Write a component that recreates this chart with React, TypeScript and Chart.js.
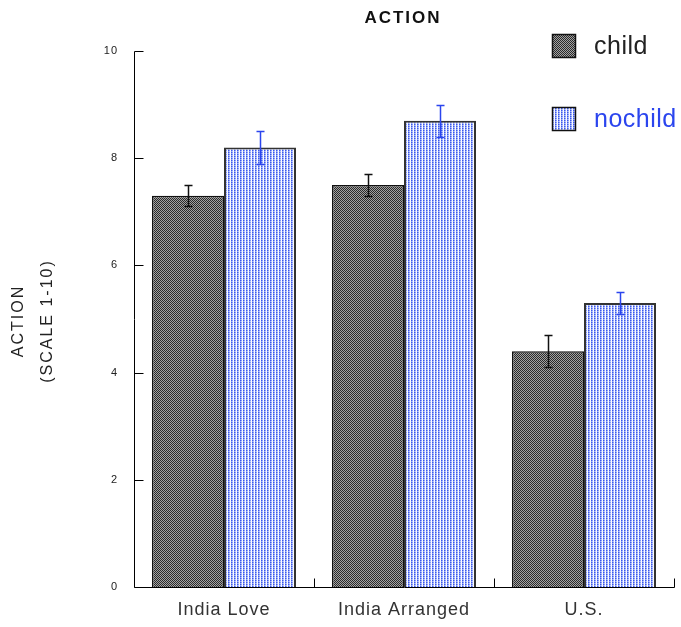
import React, { useEffect, useRef } from "react";
import { Chart, registerables } from "chart.js";

Chart.register(...registerables);

// Mean ratings per group and their error margins
const categories = ["India Love", "India Arranged", "U.S."];
const seriesNames = ["child", "nochild"];
const childValues = [7.3, 7.5, 4.4];
const childErrors = [0.2, 0.2, 0.3];
const nochildValues = [8.2, 8.7, 5.3];
const nochildErrors = [0.3, 0.3, 0.2];
const yTickValues = [0, 2, 4, 6, 8, 10];
const chartTitle = "ACTION";
const yTitleLines = ["ACTION", "(SCALE 1-10)"];

const FONT = "'Liberation Sans', Arial, Helvetica, sans-serif";
const BLUE = "#2b45ee";

function makePattern(cells: string[][]): CanvasPattern | string {
  const c = document.createElement("canvas");
  c.height = cells.length;
  c.width = cells[0].length;
  const g = c.getContext("2d");
  if (!g) return "#888";
  cells.forEach((row, y) =>
    row.forEach((col, x) => {
      g.fillStyle = col;
      g.fillRect(x, y, 1, 1);
    })
  );
  return g.createPattern(c, "repeat") || "#888";
}

export default function App() {
  const canvasRef = useRef<HTMLCanvasElement | null>(null);

  useEffect(() => {
    document.body.style.margin = "0";
    const canvas = canvasRef.current;
    if (!canvas) return;

    const childFill = makePattern([
      ["#2a2a2a", "#a2a2a2"],
      ["#a2a2a2", "#2a2a2a"],
    ]);
    const nochildFill = makePattern([
      ["#3a58ee", "#8497f4", "#ffffff"],
      ["#93a5f6", "#c6d0fa", "#f4f6ff"],
    ]);
    const errors = [childErrors, nochildErrors];
    const errColors = ["#111111", BLUE];

    const decorations = {
      id: "decorations",
      beforeDraw(chart: any) {
        chart.ctx.letterSpacing = "1px";
      },
      afterDatasetsDraw(chart: any) {
        const ctx = chart.ctx as CanvasRenderingContext2D;
        const yScale = chart.scales.y;
        const xScale = chart.scales.x;
        const area = chart.chartArea;
        ctx.save();
        ctx.letterSpacing = "0px";

        // error bars
        chart.data.datasets.forEach((ds: any, di: number) => {
          const meta = chart.getDatasetMeta(di);
          meta.data.forEach((bar: any, i: number) => {
            const v = ds.data[i] as number;
            const e = errors[di][i];
            const yTop = Math.round(yScale.getPixelForValue(v + e)) + 0.5;
            const yBot = Math.round(yScale.getPixelForValue(v - e)) + 0.5;
            const x = Math.round(bar.x) + 0.5;
            ctx.strokeStyle = errColors[di];
            ctx.lineWidth = 1.5;
            ctx.beginPath();
            ctx.moveTo(x, yTop);
            ctx.lineTo(x, yBot);
            ctx.moveTo(x - 4, yTop);
            ctx.lineTo(x + 4, yTop);
            ctx.moveTo(x - 4, yBot);
            ctx.lineTo(x + 4, yBot);
            ctx.stroke();
          });
        });

        // axis lines with inward ticks
        ctx.strokeStyle = "#000";
        ctx.lineWidth = 1;
        ctx.beginPath();
        const left = Math.round(area.left) + 0.5;
        const bottom = Math.round(area.bottom) + 0.5;
        ctx.moveTo(left, Math.round(area.top) + 0.5);
        ctx.lineTo(left, bottom);
        ctx.lineTo(Math.round(area.right) + 0.5, bottom);
        yTickValues.forEach((t) => {
          const y = Math.round(yScale.getPixelForValue(t)) + 0.5;
          ctx.moveTo(left, y);
          ctx.lineTo(left + 9, y);
        });
        const catWidth = (area.right - area.left) / categories.length;
        categories.forEach((_, i) => {
          const x = Math.round(xScale.getPixelForValue(i) + catWidth / 2) + 0.5;
          ctx.moveTo(x, bottom);
          ctx.lineTo(x, bottom - 9);
        });
        ctx.stroke();

        // chart title
        ctx.fillStyle = "#111";
        ctx.font = `bold 17px ${FONT}`;
        ctx.letterSpacing = "2px";
        ctx.textAlign = "center";
        ctx.textBaseline = "middle";
        ctx.fillText(chartTitle, 403, 18);

        // rotated y-axis title
        ctx.font = `16px ${FONT}`;
        ctx.fillStyle = "#222";
        const titleX = [19, 48];
        yTitleLines.forEach((line, i) => {
          ctx.save();
          ctx.translate(titleX[i], 321);
          ctx.rotate(-Math.PI / 2);
          ctx.fillText(line, 0, 0);
          ctx.restore();
        });

        // legend
        ctx.letterSpacing = "0.5px";
        ctx.textAlign = "left";
        ctx.font = `25px ${FONT}`;
        const fills = [childFill, nochildFill];
        const legendY = [46, 119];
        const textColors = ["#222", BLUE];
        seriesNames.forEach((name, i) => {
          const top = legendY[i] - 12;
          ctx.fillStyle = fills[i] as any;
          ctx.fillRect(552, top, 24, 24);
          ctx.strokeStyle = "#111";
          ctx.lineWidth = 1.5;
          ctx.strokeRect(552.5, top + 0.5, 23, 23);
          ctx.fillStyle = textColors[i];
          ctx.fillText(name, 594, legendY[i] + 1);
        });
        ctx.restore();
      },
      afterDraw(chart: any) {
        chart.ctx.letterSpacing = "0px";
      },
    };

    const chart = new Chart(canvas, {
      type: "bar",
      data: {
        labels: categories,
        datasets: [
          {
            label: seriesNames[0],
            data: childValues,
            backgroundColor: childFill as any,
            borderColor: "#111",
            borderWidth: 1.5,
            categoryPercentage: 0.8,
            barPercentage: 1.0,
          },
          {
            label: seriesNames[1],
            data: nochildValues,
            backgroundColor: nochildFill as any,
            borderColor: "#333",
            borderWidth: 2,
            categoryPercentage: 0.8,
            barPercentage: 1.0,
          },
        ],
      },
      options: {
        responsive: false,
        animation: false,
        layout: { padding: { top: 51, right: 7, left: 0, bottom: 0 } },
        plugins: {
          legend: { display: false },
          title: { display: false },
          tooltip: { enabled: false },
        },
        scales: {
          x: {
            grid: { display: false },
            border: { display: false },
            ticks: {
              color: "#333",
              font: { family: FONT, size: 18 },
              padding: 4,
            },
            afterFit: (scale: any) => {
              scale.height = 40;
            },
          },
          y: {
            min: 0,
            max: 10,
            grid: { display: false },
            border: { display: false },
            afterBuildTicks: (scale: any) => {
              scale.ticks = yTickValues.map((v) => ({ value: v }));
            },
            ticks: {
              color: "#222",
              font: { family: FONT, size: 11 },
              padding: 8,
            },
            afterFit: (scale: any) => {
              scale.width = 134;
            },
          },
        },
      },
      plugins: [decorations],
    });

    return () => chart.destroy();
  }, []);

  return (
    <div style={{ width: 681, height: 627 }}>
      <canvas ref={canvasRef} width={681} height={627} style={{ display: "block" }} />
    </div>
  );
}
